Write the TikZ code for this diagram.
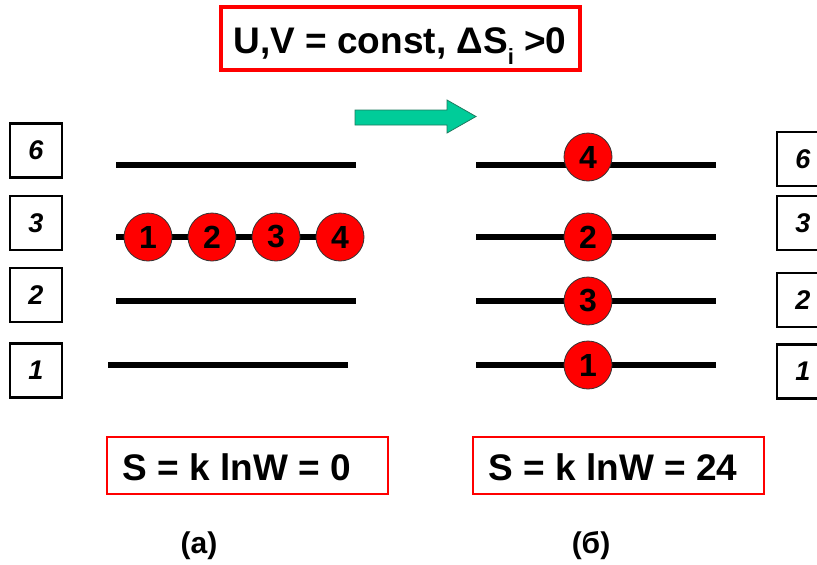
\documentclass[tikz,border=0pt]{standalone}
\usepackage{fontspec}
\setmainfont{Liberation Sans}
\definecolor{teal1}{HTML}{00CC99}
\definecolor{teal2}{HTML}{1F7A5F}
\tikzset{
  lvlbox/.style={draw=black, line width=2.5pt, fill=white, minimum width=52pt, minimum height=54pt, inner sep=0pt, font=\fontsize{27}{27}\selectfont\bfseries\itshape},
  level/.style={line width=6pt, black},
  ball/.style={circle, draw=black!80, line width=0.8pt, fill=red, minimum size=48pt, inner sep=0pt, font=\fontsize{32}{32}\selectfont\bfseries},
  redbox/.style={draw=red, line width=2pt, fill=white, inner sep=0pt},
  bigtxt/.style={font=\fontsize{37}{37}\selectfont\bfseries},
}
\begin{document}
\begin{tikzpicture}[x=1pt,y=-1pt]
\clip (0,0) rectangle (817,565);
\fill[white] (0,0) rectangle (817,565);
% title
\node[redbox, line width=4pt, minimum width=359pt, minimum height=63pt] (title) at (400.5,38.5) {};
\node[bigtxt, anchor=base] (titletxt) at (400,53) {U,V = const, ΔS\raisebox{-0.3em}{\fontsize{22}{22}\selectfont i} >0};
% arrow
\draw[teal2, line width=0.8pt, fill=teal1] (355,110) -- (447,110) -- (447,100) -- (476,116.5) -- (447,133) -- (447,125) -- (355,125) -- cycle;
% left level boxes
\node[lvlbox] (l6) at (36,150.5) {6};
\node[lvlbox] (l3) at (36,223) {3};
\node[lvlbox] (l2) at (36,295) {2};
\node[lvlbox] (l1) at (36,370.5) {1};
% right level boxes
\node[lvlbox] (r6) at (803,159) {6};
\node[lvlbox] (r3) at (803,223) {3};
\node[lvlbox] (r2) at (803,300) {2};
\node[lvlbox] (r1) at (803,371.5) {1};
% left levels
\coordinate (a6s) at (116,165); \coordinate (a6e) at (356,165);
\coordinate (a3s) at (116,237); \coordinate (a3e) at (356,237);
\coordinate (a2s) at (116,301); \coordinate (a2e) at (356,301);
\coordinate (a1s) at (108,365); \coordinate (a1e) at (348,365);
\draw[level] (a6s) -- (a6e);
\draw[level] (a3s) -- (a3e);
\draw[level] (a2s) -- (a2e);
\draw[level] (a1s) -- (a1e);
\node[ball] (p1) at (148,237) {1};
\node[ball] (p2) at (212,237) {2};
\node[ball] (p3) at (276,237) {3};
\node[ball] (p4) at (340,237) {4};
% right levels
\coordinate (b6s) at (476,165); \coordinate (b6e) at (716,165);
\coordinate (b3s) at (476,237); \coordinate (b3e) at (716,237);
\coordinate (b2s) at (476,301); \coordinate (b2e) at (716,301);
\coordinate (b1s) at (476,365); \coordinate (b1e) at (716,365);
\draw[level] (b6s) -- (b6e);
\draw[level] (b3s) -- (b3e);
\draw[level] (b2s) -- (b2e);
\draw[level] (b1s) -- (b1e);
\node[ball] (q4) at (588,157) {4};
\node[ball] (q2) at (588,237) {2};
\node[ball] (q3) at (588,301) {3};
\node[ball] (q1) at (588,365) {1};
% entropy boxes
\node[redbox, minimum width=281pt, minimum height=57pt] (sa) at (247.5,465.5) {};
\node[bigtxt, anchor=west] (satxt) at (119,467) {S = k lnW = 0};
\node[redbox, minimum width=291pt, minimum height=57pt] (sb) at (618.5,465.5) {};
\node[bigtxt, anchor=west] (sbtxt) at (485,467) {S = k lnW = 24};
% captions
\node[font=\fontsize{30}{30}\selectfont\bfseries] (capa) at (199,546) {(a)};
\node[font=\fontsize{30}{30}\selectfont\bfseries] (capb) at (591,546) {(б)};
\end{tikzpicture}
\end{document}
